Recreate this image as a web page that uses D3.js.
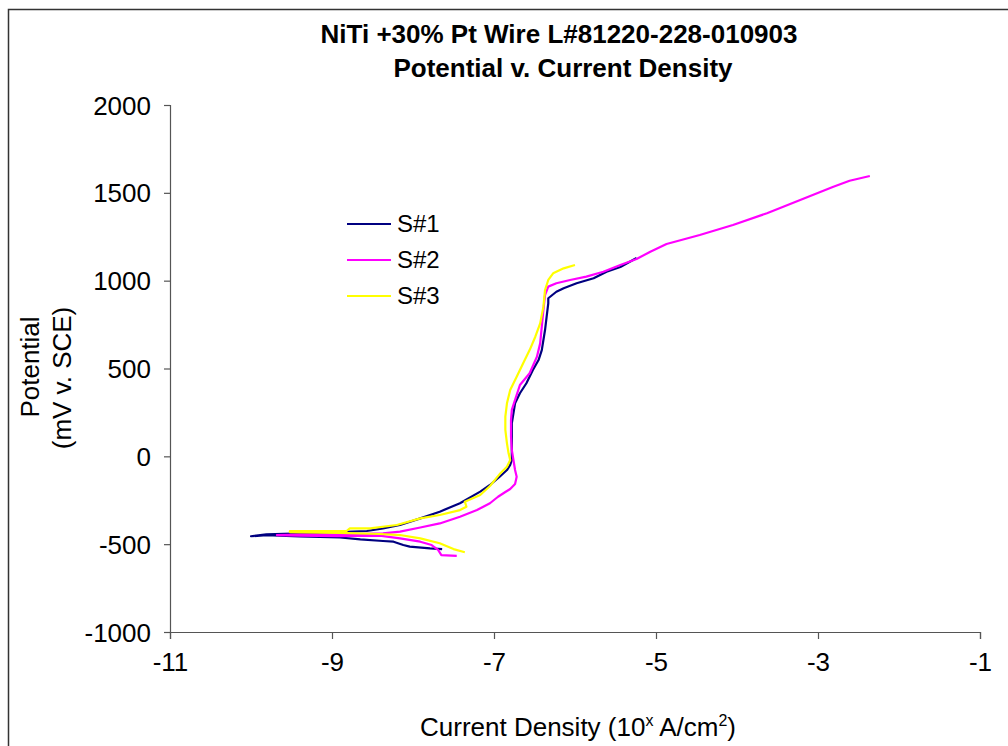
<!DOCTYPE html>
<html>
<head>
<meta charset="utf-8">
<script src="https://cdn.jsdelivr.net/npm/d3@7"></script>
<style>
  body { margin: 0; background: #fff; }
  svg { font-family: "Liberation Sans", Arial, sans-serif; }
</style>
</head>
<body>
<div id="chart"></div>
<script>
// log current density (10^x A/cm2), potential (mV v. SCE), in scan order
var s1 = [
  [-7.64, -528], [-7.79, -524], [-8.04, -514], [-8.12, -505], [-8.24, -486],
  [-8.37, -482], [-8.65, -473], [-8.90, -462], [-9.40, -456], [-9.81, -448],
  [-10.00, -455],
  [-9.81, -444], [-9.27, -437], [-8.57, -425], [-8.37, -410], [-8.16, -391],
  [-7.91, -353], [-7.67, -315], [-7.42, -267], [-7.17, -201], [-7.05, -163],
  [-6.93, -116], [-6.84, -78], [-6.80, -49], [-6.78, -21], [-6.78, 55],
  [-6.78, 188], [-6.74, 302], [-6.68, 359], [-6.60, 416], [-6.52, 491],
  [-6.45, 548], [-6.41, 605], [-6.37, 719], [-6.35, 795], [-6.33, 871],
  [-6.33, 900], [-6.23, 937], [-6.14, 957], [-5.98, 985], [-5.77, 1014],
  [-5.61, 1051], [-5.44, 1078], [-5.24, 1129]
];
var s2 = [
  [-7.46, -567], [-7.65, -562], [-7.69, -533], [-7.77, -505], [-7.91, -486],
  [-8.16, -467], [-8.41, -451], [-8.94, -454], [-9.40, -451], [-9.68, -448],
  [-9.40, -445], [-8.90, -445], [-8.37, -439], [-8.16, -429], [-7.91, -405],
  [-7.67, -382], [-7.42, -344], [-7.21, -306], [-7.05, -267], [-6.95, -230],
  [-6.86, -203], [-6.80, -186], [-6.74, -158], [-6.72, -116], [-6.74, -78],
  [-6.76, -21], [-6.78, 36], [-6.79, 112], [-6.79, 207], [-6.78, 264],
  [-6.74, 321], [-6.68, 406], [-6.56, 473], [-6.47, 567], [-6.43, 643],
  [-6.41, 738], [-6.39, 833], [-6.37, 918], [-6.33, 966], [-6.23, 985],
  [-6.06, 1004], [-5.86, 1023], [-5.65, 1051], [-5.44, 1089], [-5.24, 1123],
  [-5.07, 1165], [-4.87, 1209], [-4.46, 1260], [-4.05, 1317], [-3.63, 1384],
  [-3.22, 1459], [-2.81, 1535], [-2.61, 1569], [-2.36, 1596]
];
var s3 = [
  [-7.36, -546], [-7.50, -528], [-7.67, -495], [-7.91, -467], [-8.16, -448],
  [-8.41, -442], [-8.90, -436], [-9.52, -431],
  [-9.52, -425], [-8.82, -425], [-8.78, -410], [-8.53, -410], [-8.20, -391],
  [-7.91, -353], [-7.67, -334], [-7.42, -306], [-7.34, -287], [-7.36, -258],
  [-7.17, -220], [-7.05, -169], [-6.93, -101], [-6.84, -59], [-6.80, -21],
  [-6.82, 17], [-6.84, 74], [-6.86, 150], [-6.86, 226], [-6.84, 302],
  [-6.80, 378], [-6.72, 453], [-6.64, 530], [-6.56, 605], [-6.49, 681],
  [-6.43, 757], [-6.39, 852], [-6.37, 947], [-6.33, 1004], [-6.27, 1042],
  [-6.14, 1070], [-6.00, 1089]
];

var seriesNames = ["S#1", "S#2", "S#3"];
var seriesColors = ["#000080", "#ff00ff", "#ffff00"];
var xTicks = [-11, -9, -7, -5, -3, -1];
var yTicks = [-1000, -500, 0, 500, 1000, 1500, 2000];

var W = 1008, H = 746;
var plot = {left: 170, top: 105, right: 980, bottom: 632};

var svg = d3.select("#chart").append("svg")
    .attr("width", W)
    .attr("height", H);

svg.append("rect").attr("width", W).attr("height", H).attr("fill", "#fff");

// outer chart frame
svg.append("rect")
    .attr("x", 8.5).attr("y", 9.5)
    .attr("width", W + 10).attr("height", H + 10)
    .attr("fill", "none")
    .attr("stroke", "#333")
    .attr("stroke-width", 1.5);

var x = d3.scaleLinear().domain([-11, -1]).range([plot.left, plot.right]);
var y = d3.scaleLinear().domain([-1000, 2000]).range([plot.bottom, plot.top]);

// plain hyphen for negatives, like the original
var fmt = function(d) { return String(d); };

// Y axis
var yAxis = svg.append("g")
    .attr("transform", "translate(" + plot.left + ",0)")
    .call(d3.axisLeft(y).tickValues(yTicks).tickSize(6).tickPadding(13)
      .tickFormat(fmt));

// X axis
var xAxis = svg.append("g")
    .attr("transform", "translate(0," + plot.bottom + ")")
    .call(d3.axisBottom(x).tickValues(xTicks).tickSize(7).tickPadding(14)
      .tickFormat(fmt));

[xAxis, yAxis].forEach(function(g) {
  g.select(".domain").attr("stroke", "#555").attr("stroke-width", 1.2);
  g.selectAll(".tick line").attr("stroke", "#555").attr("stroke-width", 1.2);
  g.selectAll(".tick text")
    .attr("fill", "#000")
    .style("font-size", "26px")
    .style("font-family", "'Liberation Sans', Arial, sans-serif");
});
yAxis.selectAll(".tick text").attr("dy", "0.35em");

// series lines
var line = d3.line()
    .x(function(d) { return x(d[0]); })
    .y(function(d) { return y(d[1]); });

[s1, s2, s3].forEach(function(data, i) {
  svg.append("path")
      .datum(data)
      .attr("d", line)
      .attr("fill", "none")
      .attr("stroke", seriesColors[i])
      .attr("stroke-width", 2.2)
      .attr("stroke-linejoin", "round");
});

// title
svg.append("text")
    .attr("x", 559).attr("y", 43)
    .attr("text-anchor", "middle")
    .style("font-size", "26px").style("font-weight", "bold")
    .text("NiTi +30% Pt Wire L#81220-228-010903");
svg.append("text")
    .attr("x", 563).attr("y", 77)
    .attr("text-anchor", "middle")
    .style("font-size", "26px").style("font-weight", "bold")
    .text("Potential v. Current Density");

// y axis title
svg.append("text")
    .attr("transform", "translate(39,367) rotate(-90)")
    .attr("text-anchor", "middle")
    .style("font-size", "26px")
    .text("Potential");
svg.append("text")
    .attr("transform", "translate(71,378) rotate(-90)")
    .attr("text-anchor", "middle")
    .style("font-size", "26px")
    .text("(mV v. SCE)");

// x axis title
var xt = svg.append("text")
    .attr("x", 578).attr("y", 736)
    .attr("text-anchor", "middle")
    .style("font-size", "26px");
xt.append("tspan").text("Current Density (10");
xt.append("tspan").attr("dy", -10).style("font-size", "16px").text("x");
xt.append("tspan").attr("dy", 10).text(" A/cm");
xt.append("tspan").attr("dy", -10).style("font-size", "16px").text("2");
xt.append("tspan").attr("dy", 10).text(")");

// legend
var legend = svg.append("g");
seriesNames.forEach(function(name, i) {
  var ly = 224 + i * 36;
  legend.append("line")
      .attr("x1", 347).attr("x2", 391)
      .attr("y1", ly).attr("y2", ly)
      .attr("stroke", seriesColors[i])
      .attr("stroke-width", 2.2);
  legend.append("text")
      .attr("x", 397).attr("y", ly)
      .attr("dy", "0.35em")
      .style("font-size", "24px")
      .text(name);
});
</script>
</body>
</html>
